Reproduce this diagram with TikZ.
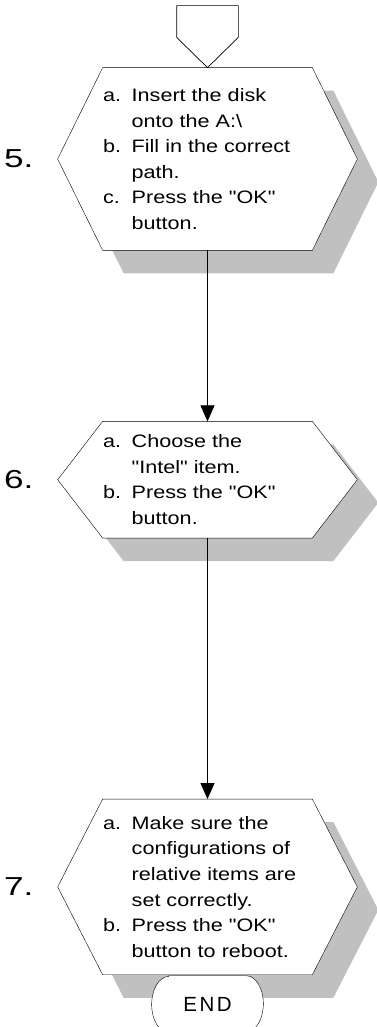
\documentclass[tikz,border=0pt]{standalone}
\usepackage{fontspec}
\setmainfont{Liberation Sans}
\newfontfamily\stepfont[FakeStretch=1.2]{Liberation Sans}
\newfontfamily\numfont[FakeStretch=1.35]{Liberation Sans}
\usetikzlibrary{arrows.meta,calc,positioning,backgrounds}
\definecolor{Shade}{HTML}{C0C0C0}
\newcommand{\stepitem}[1]{\makebox[28.7pt][l]{#1}}
\newcommand{\stepcont}{\hspace*{28.7pt}}

\begin{document}
\begin{tikzpicture}[x=1pt,y=-1pt,line width=.7pt,
    stepbox/.style={text width=209pt,inner xsep=0pt,inner ysep=0pt,align=left,
      font=\stepfont\fontsize{18}{25.6}\selectfont},
    steplabel/.style={inner sep=0pt,font=\numfont\fontsize{26}{26}\selectfont},
    flow/.style={-{Triangle[length=16pt,width=14pt]}}]
  \useasboundingbox (0,0) rectangle (376,1027);
  % steps
  \node[stepbox,minimum height=182pt] (s5) at (207.5,159)
    {\stepitem{a.}Insert the disk\\ \stepcont onto the A:\textbackslash\\
     \stepitem{b.}Fill in the correct\\ \stepcont path.\\
     \stepitem{c.}Press the "OK"\\ \stepcont button.};
  \node[stepbox,minimum height=116pt,below=171pt of s5] (s6)
    {\stepitem{a.}Choose the\\ \stepcont "Intel" item.\\
     \stepitem{b.}Press the "OK"\\ \stepcont button.};
  \node[stepbox,minimum height=175pt,below=261pt of s6] (s7)
    {\stepitem{a.}Make sure the\\ \stepcont configurations of\\
     \stepcont relative items are\\ \stepcont set correctly.\\
     \stepitem{b.}Press the "OK"\\ \stepcont button to reboot.};
  \node[steplabel,left=69pt of s5.west] (n5) {5.};
  \node[steplabel,left=69pt of s6.west] (n6) {6.};
  \node[steplabel,left=69pt of s7.west] (n7) {7.};
  \node[inner sep=0pt,minimum width=111pt,minimum height=56pt,
    font=\fontsize{20.5}{20.5}\selectfont,below=1pt of s7] (stop) {E\hspace{2.5pt}N\hspace{2.5pt}D};
  \node[inner sep=0pt,minimum width=61pt,minimum height=31pt] (entry) at (207.5,21.5) {};
  % connectors
  \draw[fill=white] (entry.south west) -- (entry.north west) -- (entry.north east)
    -- (entry.south east) -- (s5.north) -- cycle;
  \draw[flow] (s5.south) -- (s6.north);
  \draw[flow] (s6.south) -- (s7.north);
  % hexagons and shadows
  \begin{pgfonlayer}{background}
    \foreach \s in {s5,s6,s7}{
      \fill[Shade,transform canvas={shift={(21,23)}}] (\s.north west) -- (\s.north east)
        -- ([xshift=45pt]\s.east) -- (\s.south east) -- (\s.south west)
        -- ([xshift=-45pt]\s.west) -- cycle;
    }
    \foreach \s in {s5,s6,s7}{
      \draw[fill=white] (\s.north west) -- (\s.north east)
        -- ([xshift=45pt]\s.east) -- (\s.south east) -- (\s.south west)
        -- ([xshift=-45pt]\s.west) -- cycle;
    }
    \draw[fill=white] ([xshift=17pt]stop.north west) -- ([xshift=-17pt]stop.north east)
      arc[start angle=90,end angle=-90,x radius=17pt,y radius=28pt]
      -- ([xshift=17pt]stop.south west)
      arc[start angle=270,end angle=90,x radius=17pt,y radius=28pt] -- cycle;
  \end{pgfonlayer}
\end{tikzpicture}
\end{document}
